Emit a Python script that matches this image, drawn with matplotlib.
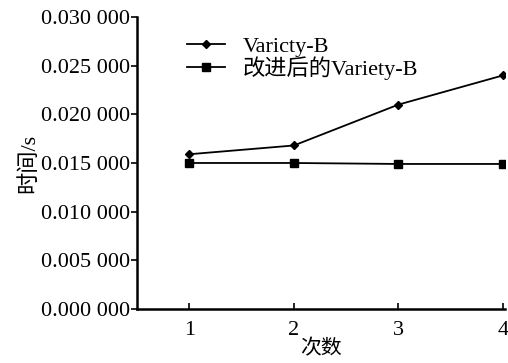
import matplotlib
matplotlib.use('Agg')
import matplotlib.pyplot as plt
from matplotlib.ticker import FuncFormatter

serif = 'Liberation Serif'
cjk = ['Liberation Serif', 'Noto Sans CJK SC']
plt.rcParams['font.family'] = serif

runs = [1, 2, 3, 4]
variety_b = [0.0159, 0.0168, 0.0210, 0.0240]
variety_b_new = [0.0150, 0.0150, 0.0149, 0.0149]
yticks = [0.0, 0.005, 0.010, 0.015, 0.020, 0.025, 0.030]


def fmt(v, pos):
    s = f'{v:.6f}'
    return s[:5] + ' ' + s[5:]


fig = plt.figure(figsize=(5.08, 3.63), dpi=100)
ax = fig.add_axes([0.270, 0.149, 0.724, 0.804])

ax.plot(runs, variety_b, color='black', lw=1.3, marker='D', ms=4.5,
        label='Varicty-B')
ax.plot(runs, variety_b_new, color='black', lw=1.3, marker='s', ms=6,
        label='改进后的Variety-B')

ax.set_xlim(0.5, 4.02)
ax.set_ylim(0, 0.030)
ax.set_xticks(runs)
ax.set_yticks(yticks)
ax.yaxis.set_major_formatter(FuncFormatter(fmt))

for side in ['top', 'right']:
    ax.spines[side].set_visible(False)
for side in ['left', 'bottom']:
    ax.spines[side].set_linewidth(1.8)
ax.tick_params(axis='x', direction='in', length=4, width=1.2, labelsize=16, pad=9)
ax.tick_params(axis='y', direction='out', length=4, width=1.2, labelsize=16, pad=1)

ax.set_xlabel('次数', fontsize=15, labelpad=0, family=cjk)
ax.set_ylabel('时间/s', fontsize=16, labelpad=1, family=cjk)

ax.legend(loc='upper left', bbox_to_anchor=(0.136, 0.935), frameon=False,
          prop={'family': cjk, 'size': 16}, handlelength=1.7,
          labelspacing=0.0, borderpad=0, borderaxespad=0,
          handletextpad=0.8)

fig.savefig('out.png', dpi=100)
